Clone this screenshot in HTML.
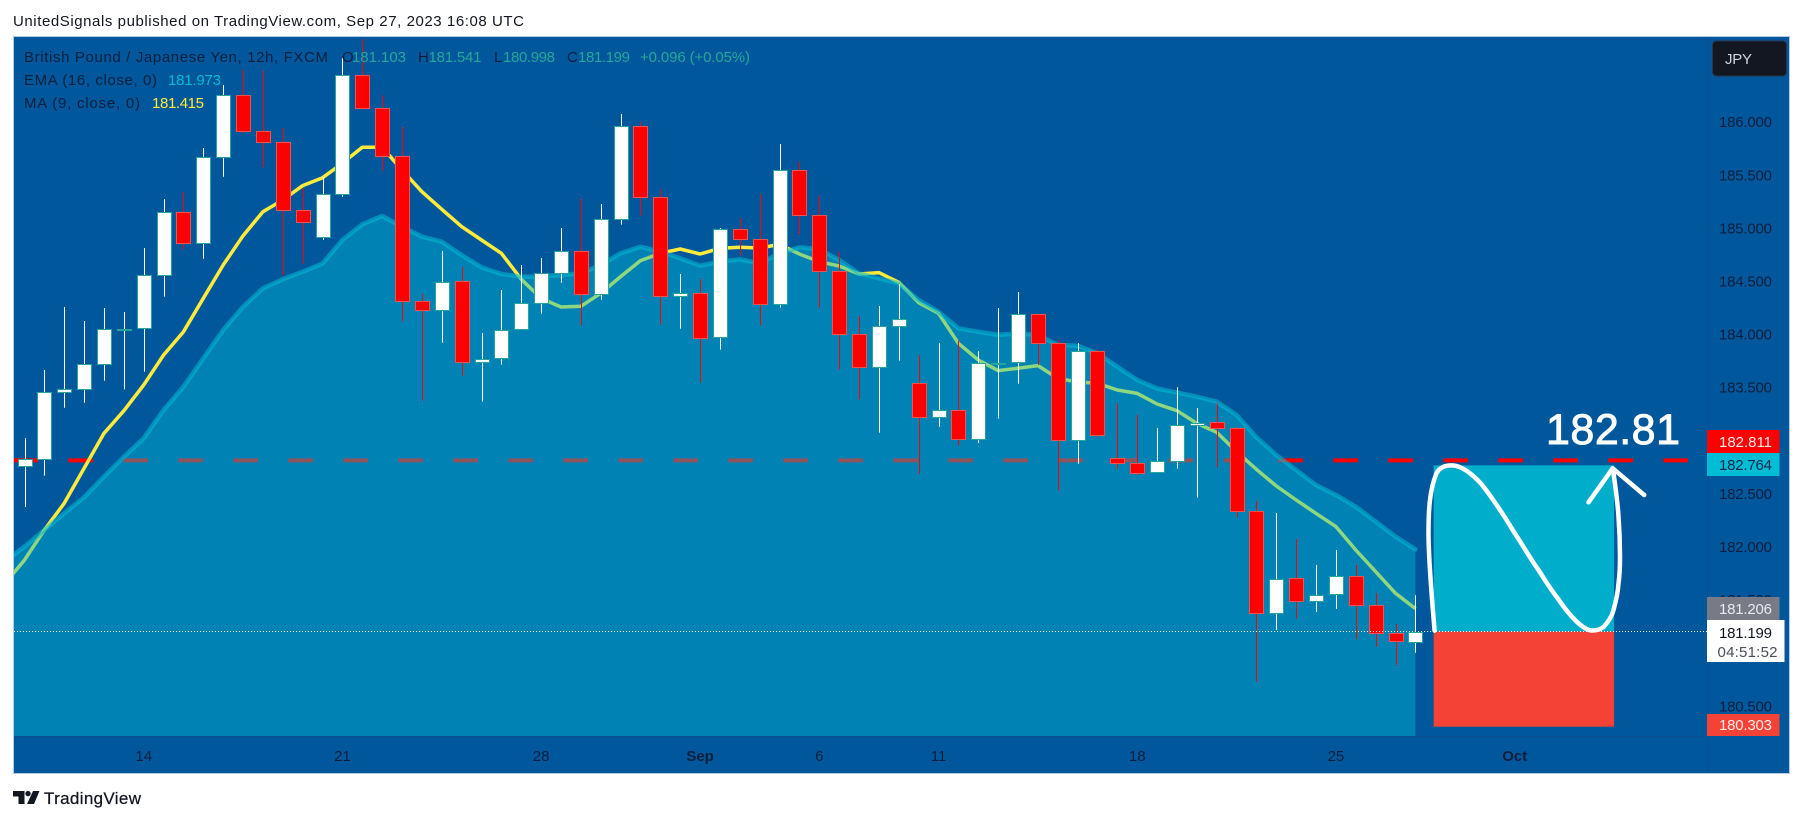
<!DOCTYPE html>
<html lang="en">
<head>
<meta charset="utf-8">
<title>GBP/JPY 12h chart</title>
<style>
html,body{margin:0;padding:0;width:1803px;height:821px;overflow:hidden;background:#fff}
svg{display:block}
text{font-family:"Liberation Sans",sans-serif}
</style>
</head>
<body>
<svg id="chart" xmlns="http://www.w3.org/2000/svg" width="1803" height="821" viewBox="0 0 1803 821">
  <defs>
    <clipPath id="plot-clip"><rect x="14" y="37" width="1693" height="699"/></clipPath>
  </defs>
  <text x="13" y="26" font-size="15" fill="#131722" textLength="511" lengthAdjust="spacing">UnitedSignals published on TradingView.com, Sep 27, 2023 16:08 UTC</text>
  <rect x="13.5" y="36.5" width="1776" height="737" fill="#01579b" stroke="#b4cbe2" stroke-width="1"/>
  <g id="plot" clip-path="url(#plot-clip)"></g>
  <g id="annotations"></g>
  <path fill="none" stroke="#fff" stroke-width="4.5" stroke-linecap="round" stroke-linejoin="round" d="M1434.6,630.7 C1432,600 1428.5,560 1428.5,533.3 C1428.5,510 1429.5,490 1436.5,473.3 C1440,466.5 1447,465 1453.8,465.5 C1463,466.5 1472,474 1480.8,483.3 C1488,492 1494,501 1500,510 C1507,520 1513,531 1519.2,540 C1526,551 1532,561 1538.5,570 C1545,580 1551,590 1557.7,598.3 C1563,606 1569,614 1575,620 C1581,626 1587,630.5 1592.3,630.5 C1598,630.5 1601,629 1603.8,626.7 C1609,621 1612,616 1613.5,610 C1616,601 1618,592 1618.5,583.3 C1619.8,574 1620,565 1620,556.7 C1620,543 1619.5,530 1618.5,516.7 C1618,508 1617,500 1616.2,493.3 C1615,484 1614,476 1612.7,468.3"/>
  <polyline fill="none" stroke="#fff" stroke-width="4.5" stroke-linecap="round" stroke-linejoin="round" points="1588.5,502.3 1612.7,468.3 1644.2,495"/>
  <text x="1546" y="444" font-size="43" fill="#fff" stroke="#fff" stroke-width="0.9" textLength="134" lengthAdjust="spacing">182.81</text>

  <g font-size="15">
    <text x="24" y="62" fill="#0b1f3d" textLength="304" lengthAdjust="spacing">British Pound / Japanese Yen, 12h, FXCM</text>
    <text x="342" y="62" fill="#0b1f3d">O</text>
    <text x="352" y="62" fill="#26a69a" textLength="54">181.103</text>
    <text x="418" y="62" fill="#0b1f3d">H</text>
    <text x="428.5" y="62" fill="#26a69a" textLength="53">181.541</text>
    <text x="494" y="62" fill="#0b1f3d">L</text>
    <text x="503" y="62" fill="#26a69a" textLength="52">180.998</text>
    <text x="567" y="62" fill="#0b1f3d">C</text>
    <text x="578" y="62" fill="#26a69a" textLength="52">181.199</text>
    <text x="640" y="62" fill="#26a69a" textLength="110">+0.096 (+0.05%)</text>
  </g>
  <g font-size="15">
    <text x="24" y="85" fill="#0b1f3d" textLength="133">EMA (16, close, 0)</text>
    <text x="168" y="85" fill="#00bcd4" textLength="53">181.973</text>
  </g>
  <g font-size="15">
    <text x="24" y="108" fill="#0b1f3d" textLength="116">MA (9, close, 0)</text>
    <text x="152" y="108" fill="#ffeb3b" textLength="52">181.415</text>
  </g>

  <line x1="14" y1="736.5" x2="1789" y2="736.5" stroke="#0d4f8c" stroke-width="1"/>
  <rect x="14" y="737" width="1693" height="36" fill="#01579b"/>
  <rect x="1707" y="37" width="82" height="736" fill="#01579b"/>
  <line x1="1707.5" y1="37" x2="1707.5" y2="773" stroke="#0d4f8c" stroke-width="1"/>
  <g id="price-ticks"></g>
  <g id="time-ticks"></g>

  <rect x="1712.5" y="41" width="74" height="35" rx="4" fill="#131722" stroke="#2a3347"/>
  <text x="1725" y="64" font-size="15" fill="#d1d4dc" textLength="27">JPY</text>

  <rect x="1707" y="430" width="72.5" height="23" fill="#ff0000"/>
  <text x="1719" y="447" font-size="15" fill="#ffe8e8" textLength="53">182.811</text>
  <rect x="1707" y="453" width="72.5" height="23" fill="#00bcd4"/>
  <text x="1719" y="470" font-size="15" fill="#0b2a4a" textLength="53">182.764</text>
  <rect x="1707" y="597" width="72.5" height="23" fill="#787b86"/>
  <text x="1719" y="614" font-size="15" fill="#e6e8ee" textLength="53">181.206</text>
  <rect x="1707" y="620" width="77.5" height="42" fill="#fff"/>
  <text x="1719" y="638" font-size="15" fill="#131722" textLength="53">181.199</text>
  <text x="1717.5" y="657" font-size="15" fill="#4a4e5a" textLength="60">04:51:52</text>
  <rect x="1707" y="714" width="72.5" height="22" fill="#f44336"/>
  <text x="1719" y="730" font-size="15" fill="#ffe8e8" textLength="53">180.303</text>

  <g fill="#131722">
    <polygon points="13,791 24.5,791 24.5,804 18.5,804 18.5,796.5 13,796.5"/>
    <circle cx="28" cy="793.6" r="2.7"/>
    <polygon points="33,791 39.5,791 34,804 27,804"/>
    <text x="44" y="804" font-size="17" textLength="97" stroke="#131722" stroke-width="0.25">TradingView</text>
  </g>
</svg>

<script>
// ---- chart data ----
const opens = [182.758,182.821,183.452,183.480,183.715,184.045,184.054,184.553,185.147,184.855,185.665,186.248,185.909,185.806,185.165,184.911,185.316,186.437,186.126,185.674,184.309,184.224,184.497,183.734,183.772,184.045,184.290,184.579,184.779,184.375,185.081,185.956,185.288,184.356,184.384,183.970,184.987,184.892,184.280,185.542,185.118,184.591,183.998,183.687,184.073,183.537,183.216,183.282,183.009,183.725,183.734,184.186,183.919,183.000,183.838,182.830,182.783,182.698,182.808,183.141,183.169,183.113,182.331,181.371,181.700,181.484,181.550,181.725,181.446,181.182,181.103];
const highs = [183.022,183.662,184.255,184.123,184.246,184.208,184.811,185.272,185.338,185.752,186.346,186.487,186.477,185.941,185.376,185.482,186.597,186.776,186.248,185.950,184.378,184.783,184.629,184.010,184.415,184.651,184.717,184.999,185.272,185.225,186.073,186.000,185.363,184.566,184.519,184.999,185.093,185.322,185.790,185.627,185.300,184.773,184.171,184.265,184.472,183.800,183.916,183.938,183.841,184.246,184.396,184.186,183.945,183.916,183.853,183.348,183.238,183.116,183.499,183.304,183.348,183.126,182.429,182.316,182.071,181.826,181.967,181.826,181.562,181.270,181.541];
const lows = [182.372,182.667,183.307,183.354,183.562,183.480,183.646,184.353,184.798,184.710,185.482,185.891,185.570,184.557,184.663,184.889,185.294,186.117,185.536,184.120,183.373,183.919,183.609,183.364,183.712,184.045,184.192,184.484,184.080,184.324,185.031,185.115,184.089,184.051,183.543,183.854,184.739,184.080,184.249,184.933,184.249,183.668,183.383,183.072,183.750,182.686,183.128,182.950,182.975,183.204,183.533,183.709,182.526,182.780,183.031,182.733,182.673,182.698,182.733,182.460,182.746,182.272,180.727,181.214,181.321,181.383,181.412,181.129,181.057,180.884,180.998];
const closes = [182.821,183.452,183.480,183.715,184.045,184.051,184.553,185.147,184.855,185.665,186.248,185.909,185.806,185.165,185.052,185.316,186.437,186.126,185.674,184.309,184.224,184.494,183.734,183.769,184.042,184.290,184.579,184.779,184.375,185.081,185.956,185.288,184.356,184.384,183.960,184.987,184.892,184.280,185.542,185.118,184.591,183.998,183.687,184.073,184.139,183.216,183.282,183.009,183.725,183.731,184.186,183.919,183.000,183.838,183.053,182.783,182.695,182.808,183.141,183.166,183.113,182.331,181.371,181.697,181.484,181.547,181.725,181.446,181.182,181.107,181.199];
// moving averages start one bar before the first visible candle
const maValues = [181.647,181.873,182.156,182.407,182.736,183.066,183.279,183.521,183.803,184.023,184.337,184.651,184.927,185.153,185.263,185.398,185.473,185.608,185.759,185.759,185.545,185.341,185.175,185.012,184.886,184.761,184.516,184.337,184.255,184.262,184.384,184.541,184.692,184.761,184.801,184.754,184.808,184.817,184.811,184.845,184.754,184.682,184.641,184.566,184.579,184.488,184.296,184.196,183.913,183.756,183.656,183.678,183.703,183.584,183.549,183.537,183.474,183.442,183.342,183.279,183.160,183.075,182.893,182.727,182.570,182.438,182.312,182.187,181.967,181.763,181.559,181.415];
const emaValues = [181.857,181.999,182.156,182.312,182.463,182.658,182.846,183.019,183.285,183.505,183.772,184.039,184.258,184.431,184.516,184.588,184.666,184.886,185.034,185.112,185.012,184.918,184.870,184.745,184.629,184.566,184.541,184.541,184.557,184.572,184.651,184.761,184.823,184.776,184.714,184.644,184.682,184.704,184.666,184.761,184.817,184.798,184.698,184.572,184.525,184.478,184.321,184.211,184.054,184.023,183.992,184.007,183.992,183.897,183.891,183.819,183.693,183.568,183.489,183.449,183.411,183.364,183.238,183.028,182.862,182.720,182.579,182.485,182.375,182.234,182.093,181.973];
const priceTicks = ['186.000','185.500','185.000','184.500','184.000','183.500','182.500','182.000','181.500','180.500'];
const timeLabels = ['14','21','28','Sep','6','11','18','25','Oct'];
const timeLabelBars = [6,16,26,34,40,46,56,66,75];
const boldTimeLabels = ['Sep','Oct'];
const resistanceLevel = 182.811;
const lastPrice = 181.199;
const targetPrice = 182.764;
const stopPrice = 180.303;
const positionStartBar = 70.92;
const positionEndBar = 80;

// ---- axis functions ----
function xOf(bar){ return 24.5 + 19.87 * bar; }
function yOf(price){ return 121.7 + (186 - price) * 106.2; }

const NS = 'http://www.w3.org/2000/svg';
function make(tag, parent){
  const el = document.createElementNS(NS, tag);
  parent.appendChild(el);
  return el;
}
const plot = document.getElementById('plot');
const notes = document.getElementById('annotations');

// dashed resistance line (sits under the EMA area)
const level = make('line', plot);


level.setAttribute('x1', 13.4);
level.setAttribute('x2', 1688);
level.setAttribute('y1', yOf(resistanceLevel));
level.setAttribute('y2', yOf(resistanceLevel));
level.setAttribute('stroke', '#ff0000');
level.setAttribute('stroke-width', 4);
level.setAttribute('stroke-dasharray', '24.6 30.4');

// MA line (also beneath the EMA area)
const maLine = make('polyline', plot);


maLine.setAttribute('points', maValues.map((v, i) => xOf(i - 1).toFixed(1) + ',' + yOf(v).toFixed(1)).join(' '));
maLine.setAttribute('fill', 'none');
maLine.setAttribute('stroke', '#ffeb3b');
maLine.setAttribute('stroke-width', 3.5);
maLine.setAttribute('stroke-linejoin', 'round');

// EMA area + edge
const emaPoints = emaValues.map((v, i) => xOf(i - 1).toFixed(1) + ',' + yOf(v).toFixed(1));
const lastEmaBar = emaValues.length - 2;
const emaArea = make('polygon', plot);


emaArea.setAttribute('points', emaPoints.join(' ') + ' ' + xOf(lastEmaBar).toFixed(1) + ',736 ' + xOf(-1).toFixed(1) + ',736');
emaArea.setAttribute('fill', 'rgba(0,188,212,0.44)');
const emaLine = make('polyline', plot);


emaLine.setAttribute('points', emaPoints.join(' '));
emaLine.setAttribute('fill', 'none');
emaLine.setAttribute('stroke', 'rgba(0,188,212,0.55)');
emaLine.setAttribute('stroke-width', 4.5);
emaLine.setAttribute('stroke-linejoin', 'round');
emaLine.setAttribute('stroke-linecap', 'round');

// candles
closes.forEach((close, i) => {
  const open = opens[i];
  const up = close >= open;
  const cx = Math.round(xOf(i)) + 0.5;
  const group = make('g', plot);
  
  
  const wick = make('line', group);
  
  
  wick.setAttribute('x1', cx);
  wick.setAttribute('x2', cx);
  wick.setAttribute('y1', yOf(highs[i]));
  wick.setAttribute('y2', yOf(lows[i]));
  wick.setAttribute('stroke', up ? '#ffffff' : '#ff0000');
  wick.setAttribute('stroke-width', 1);
  const top = yOf(Math.max(open, close));
  const bottom = yOf(Math.min(open, close));
  const body = make('rect', group);
  
  
  body.setAttribute('x', cx - 7);
  body.setAttribute('width', 14);
  body.setAttribute('y', Math.round(top) + 0.5);
  body.setAttribute('height', Math.max(Math.round(bottom) - Math.round(top), 1));
  body.setAttribute('fill', up ? '#ffffff' : '#ff0000');
  body.setAttribute('stroke', up ? '#26a69a' : '#ef5350');
  body.setAttribute('stroke-width', 1);
});

// long position box
const profitBox = make('rect', notes);


profitBox.setAttribute('x', xOf(positionStartBar));
profitBox.setAttribute('width', xOf(positionEndBar) - xOf(positionStartBar));
profitBox.setAttribute('y', yOf(targetPrice));
profitBox.setAttribute('height', yOf(lastPrice) - yOf(targetPrice));
profitBox.setAttribute('fill', '#00aecb');
const lossBox = make('rect', notes);


lossBox.setAttribute('x', xOf(positionStartBar));
lossBox.setAttribute('width', xOf(positionEndBar) - xOf(positionStartBar));
lossBox.setAttribute('y', yOf(lastPrice));
lossBox.setAttribute('height', yOf(stopPrice) - yOf(lastPrice));
lossBox.setAttribute('fill', '#f44336');

// last price dotted line
const lastLine = make('line', notes);


lastLine.setAttribute('x1', 14);
lastLine.setAttribute('x2', 1707);
lastLine.setAttribute('y1', Math.round(yOf(lastPrice)) - 0.5);
lastLine.setAttribute('y2', Math.round(yOf(lastPrice)) - 0.5);
lastLine.setAttribute('stroke', '#ffffff');
lastLine.setAttribute('stroke-width', 1);
lastLine.setAttribute('stroke-dasharray', '1 2');

// axis tick labels
const priceGroup = document.getElementById('price-ticks');
priceTicks.forEach((label) => {
  const t = make('text', priceGroup);
  
  
  t.setAttribute('x', 1719);
  t.setAttribute('y', yOf(parseFloat(label)) + 5.5);
  t.setAttribute('font-size', 15);
  t.setAttribute('fill', '#0b1f3d');
  t.setAttribute('textLength', 53);
  t.textContent = label;
});
const timeGroup = document.getElementById('time-ticks');
timeLabels.forEach((label, i) => {
  const t = make('text', timeGroup);
  
  
  t.setAttribute('x', xOf(timeLabelBars[i]));
  t.setAttribute('y', 761);
  t.setAttribute('font-size', 15);
  t.setAttribute('text-anchor', 'middle');
  t.setAttribute('fill', '#0b1f3d');
  if (boldTimeLabels.includes(label)) t.setAttribute('font-weight', 'bold');
  t.textContent = label;
});
</script>
</body>
</html>
